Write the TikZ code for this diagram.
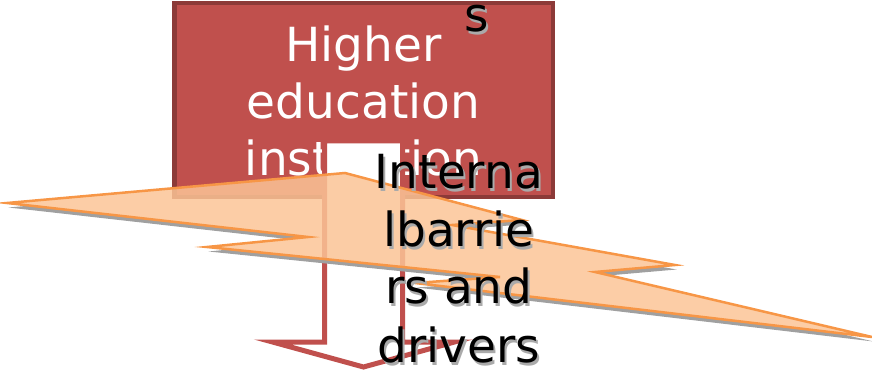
\documentclass[tikz,border=0pt]{standalone}
\usepackage{fontspec}
\setmainfont{DejaVu Sans}
\definecolor{boxred}{HTML}{C0504D}
\definecolor{boxborder}{HTML}{8C3A38}
\definecolor{boltline}{HTML}{F79646}
\definecolor{boltfill}{RGB}{251,196,150}
\definecolor{shadowgray}{RGB}{160,160,160}
\definecolor{txtshadow}{RGB}{170,170,170}
\tikzset{
  boltpath/.style={insert path={(7,203) -- (345,173) -- (522,220) -- (452,225) -- (675,265) -- (595,272) -- (872,337) -- (415,283) -- (500,277) -- (207,247) -- (308,237) -- cycle}},
  bigtext/.style={font=\fontsize{47}{57}\selectfont, inner sep=0pt, anchor=base},
  whitetext/.style={bigtext, text=white},
  blacktext/.style={bigtext, text=black},
  shadowtext/.style={bigtext, text=txtshadow},
}
\begin{document}
\begin{tikzpicture}[x=1pt,y=-1pt]
\useasboundingbox (0,0) rectangle (872,371);
% red box
\draw[boxborder, line width=4.5pt, fill=boxred] (174.5,3) rectangle (553,197);
% white text
\node[whitetext] (l1) at (363.5,62) {Higher};
\node[whitetext] (l2) at (363.5,119) {education};
\node[whitetext] (l3) at (363.5,176) {institution};
% down arrow
\draw[boxred, line width=5pt, fill=white, line join=miter]
  (324.5,141) -- (324.5,342) -- (272.5,342) -- (363.5,367) -- (454.5,342) -- (402.5,342) -- (402.5,141) -- cycle;
% bolt shadow, outside the bolt only
\begin{scope}[even odd rule]
  \clip (-10,-10) rectangle (900,400)
    (7,203) -- (345,173) -- (522,220) -- (452,225) -- (675,265) -- (595,272) -- (872,337) -- (415,283) -- (500,277) -- (207,247) -- (308,237) -- cycle;
  \fill[shadowgray, shift={(1.5,4.5)}, boltpath];
\end{scope}
% bolt
\draw[boltline, line width=2.5pt, fill=boltfill, fill opacity=0.85, line join=miter, boltpath];
% black text with shadows
\node[shadowtext] (s1s) at (461,192) {Interna};
\node[shadowtext] (s2s) at (461,250) {lbarrie};
\node[shadowtext] (s3s) at (461,306) {rs and};
\node[shadowtext] (s4s) at (461,365) {drivers};
\node[shadowtext] (s0s) at (478.5,35) {s};
\node[blacktext] (s1) at (459,189) {Interna};
\node[blacktext] (s2) at (459,247) {lbarrie};
\node[blacktext] (s3) at (459,303) {rs and};
\node[blacktext] (s4) at (459,362) {drivers};
\node[blacktext] (s0) at (476.5,32) {s};
\end{tikzpicture}
\end{document}
